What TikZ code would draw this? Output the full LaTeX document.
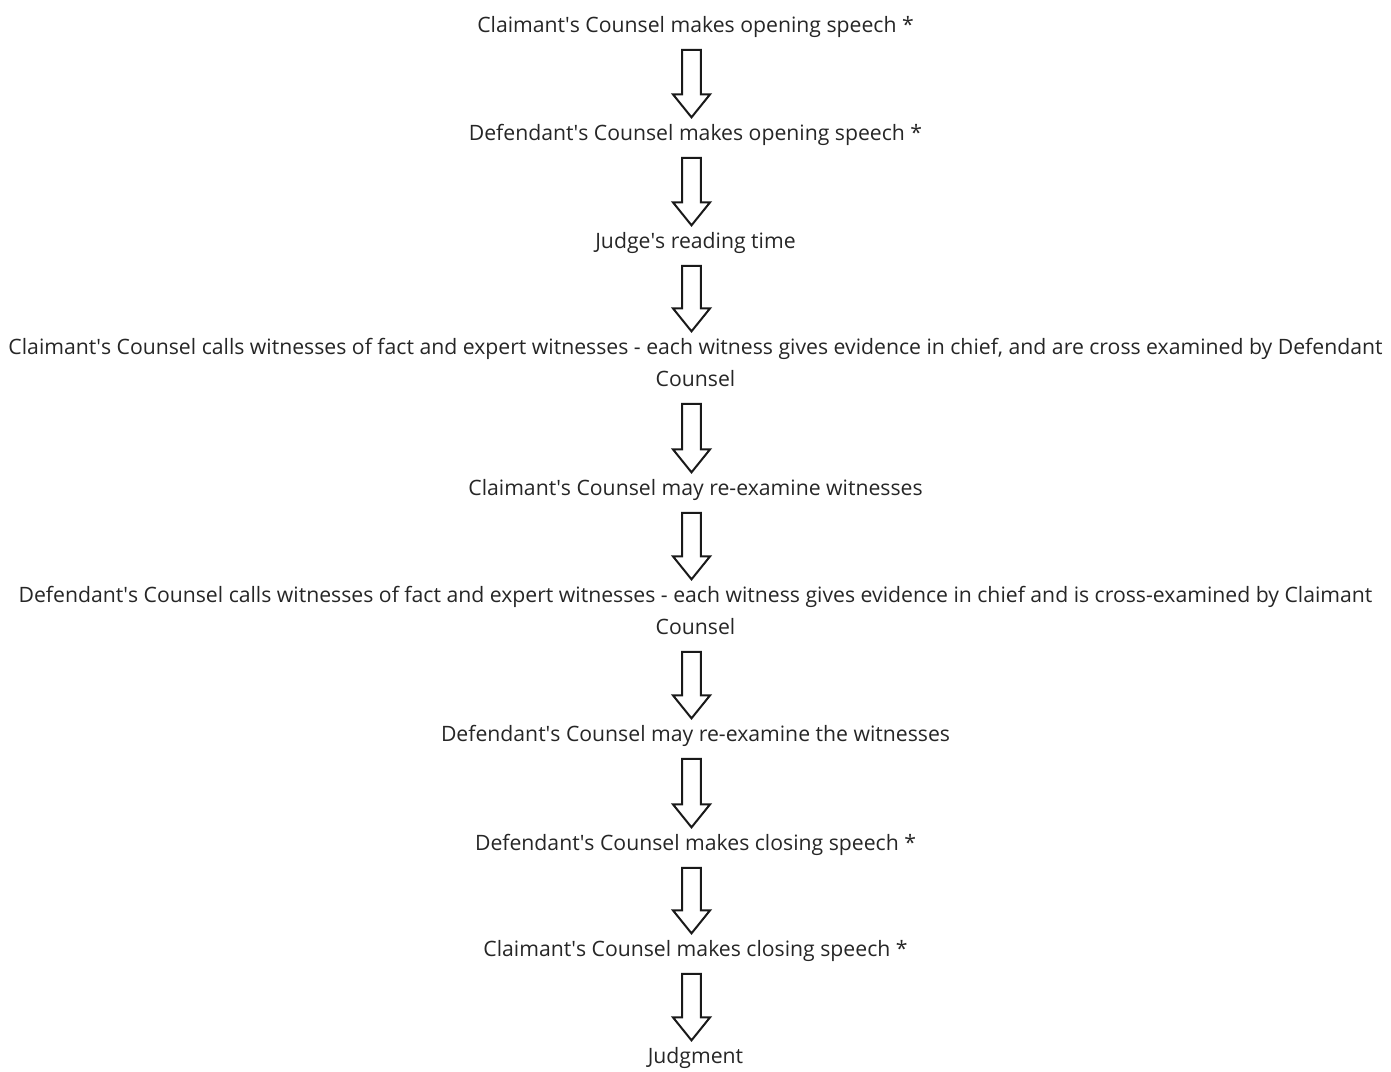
\documentclass[tikz,border=0pt]{standalone}
\usepackage{fontspec}
\setmainfont{Open Sans}
\usetikzlibrary{calc}
\newcommand{\ap}{\textquotesingle}

\begin{document}
\begin{tikzpicture}[
        x=0.75pt,
        y=-0.75pt,
        every node/.style={font=\fontsize{15.9}{24}\selectfont, text=black!85, inner sep=0pt},
        stage/.style={anchor=base},
        longstage/.style={align=center},
        flow/.style={
            draw=black!90,
            line width=1.5pt,
            line join=miter,
            to path={let \p1=(\tikztostart.south), \p2=(\tikztotarget.north) in
                (\x1-10.1pt,\y1-6pt) -- (\x1+4.1pt,\y1-6pt) -- (\x1+4.1pt,\y2+17.25pt)
                -- (\x1+10.9pt,\y2+17.25pt) -- (\x1-3pt,\y2) -- (\x1-16.9pt,\y2+17.25pt)
                -- (\x1-10.1pt,\y2+17.25pt) -- cycle}
        }
    ]
    \useasboundingbox (0,0) rectangle (1391,1071);

    \node[stage] (open1) at (695.5,32) {\strut Claimant\ap s Counsel makes opening speech *};
    \node[stage] (open2) at (695.5,140) {\strut Defendant\ap s Counsel makes opening speech *};
    \node[stage] (reading) at (695.5,248) {\strut Judge\ap s reading time};
    \node[longstage] (cwit) at (695.5,363.6) {\strut Claimant\ap s Counsel calls witnesses of fact and expert witnesses - each witness gives evidence in chief, and are cross examined by Defendant\\\strut Counsel};
    \node[stage] (crex) at (695.5,495) {\strut Claimant\ap s Counsel may re-examine witnesses};
    \node[longstage] (dwit) at (695.5,611.6) {\strut Defendant\ap s Counsel calls witnesses of fact and expert witnesses - each witness gives evidence in chief and is cross-examined by Claimant\\\strut Counsel};
    \node[stage] (drex) at (695.5,741) {\strut Defendant\ap s Counsel may re-examine the witnesses};
    \node[stage] (close1) at (695.5,850) {\strut Defendant\ap s Counsel makes closing speech *};
    \node[stage] (close2) at (695.5,956) {\strut Claimant\ap s Counsel makes closing speech *};
    \node[stage] (judg) at (695.5,1063) {\strut Judgment};

    \foreach \a/\b in {open1/open2, open2/reading, reading/cwit, cwit/crex, crex/dwit,
                       dwit/drex, drex/close1, close1/close2, close2/judg}
        \draw[flow] (\a) to (\b);
\end{tikzpicture}
\end{document}
